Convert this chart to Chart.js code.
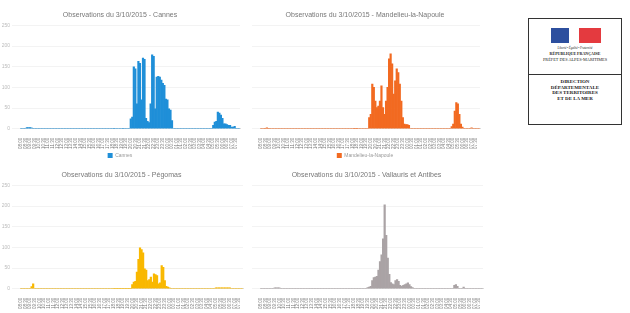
<!DOCTYPE html>
<html>
<head>
<meta charset="utf-8">
<script src="https://cdn.jsdelivr.net/npm/chart.js@4.4.0/dist/chart.umd.min.js"></script>
<style>
body { margin: 0; background: #fff; width: 630px; height: 313px; overflow: hidden; position: relative; font-family: "Liberation Sans", Arial, sans-serif; }
canvas { position: absolute; }
#logo { position: absolute; left: 528px; top: 18px; width: 92px; height: 105px; border: 1px solid #333; background: #fff; }
#logo .haut { position: absolute; left: 0; top: 0; width: 92px; height: 55px; border-bottom: 1px solid #333; }
#logo .bleu { position: absolute; left: 22px; top: 9px; width: 18px; height: 15px; background: #2d4f9e; }
#logo .rouge { position: absolute; left: 50px; top: 9px; width: 22px; height: 15px; background: #e43a3f; }
#logo .l { position: absolute; left: 0; width: 92px; text-align: center; white-space: nowrap; color: #222; font-family: "Liberation Serif", serif; }
</style>
</head>
<body>
<canvas id="c1" width="250" height="170" style="left:0;top:0"></canvas>
<canvas id="c2" width="250" height="170" style="left:250px;top:0"></canvas>
<canvas id="c3" width="250" height="170" style="left:0;top:160px"></canvas>
<canvas id="c4" width="250" height="170" style="left:250px;top:160px"></canvas>

<div id="logo">
  <div class="haut">
    <div class="bleu"></div><div class="rouge"></div>
    <div class="l" style="top:27px;font-size:3px;font-style:italic">Liberté • Égalité • Fraternité</div>
    <div class="l" style="top:32px;font-size:4px;font-weight:bold">RÉPUBLIQUE FRANÇAISE</div>
    <div class="l" style="top:38px;font-size:4.3px">PRÉFET DES ALPES-MARITIMES</div>
  </div>
  <div class="l" style="top:60px;font-size:5px;font-weight:bold;line-height:5.5px">DIRECTION<br>DÉPARTEMENTALE<br>DES TERRITOIRES<br>ET DE LA MER</div>
</div>

<script>
// pas de 10 minutes à partir de 08:00
var heures = [];
for (var k = 0; k < 144; k++) {
  var m = 8 * 60 + k * 10;
  var h = Math.floor(m / 60) % 24, mn = m % 60;
  heures.push((h < 10 ? "0" : "") + h + ":" + (mn < 10 ? "0" : "") + mn);
}

var cannes = [
  0,0,0,0,3,3,3,2,0,0,0,0,0,0,0,0,0,0,0,0,0,0,0,0,
  0,0,0,0,0,0,0,0,0,0,0,0,0,0,0,0,0,0,0,0,0,0,0,0,
  0,0,0,0,0,0,0,0,0,0,0,0,0,1,0,0,0,0,0,1,0,0,0,0,
  24,28,150,145,60,163,158,70,171,168,25,18,15,60,179,175,48,125,127,125,118,110,105,72,
  70,48,45,20,0,0,0,0,0,0,0,0,0,0,0,0,0,0,0,0,0,0,0,0,
  0,0,0,0,0,0,8,16,18,40,38,33,25,12,12,10,8,8,4,4,6,0,0,0
];
var mandelieu = [
  0,0,0,1,2,1,0,0,0,0,0,0,0,0,0,0,0,0,0,0,0,0,0,0,
  0,0,0,0,0,0,0,0,0,0,0,0,0,0,0,0,0,0,0,0,0,0,0,0,
  0,0,0,0,0,0,0,0,0,0,0,0,0,1,1,1,0,0,0,0,0,0,0,27,
  35,108,100,67,51,55,67,104,51,35,67,100,169,181,157,84,116,145,136,108,67,27,11,10,
  10,8,0,0,0,0,0,0,0,0,0,0,0,0,0,0,0,0,0,0,0,0,0,0,
  0,0,0,0,0,5,11,43,63,60,35,11,4,0,0,0,0,0,2,0,0,0,0,0
];
var pegomas = [
  0,0,0,0,0,0,0,5,12,0,0,0,0,0,0,0,0,0,0,0,0,0,0,0,
  0,0,0,0,0,0,0,0,0,0,0,0,0,0,0,0,0,0,0,0,0,0,0,0,
  0,0,0,0,0,0,0,0,0,0,0,0,1,1,1,1,1,1,1,1,1,1,1,1,
  10,16,18,40,71,99,95,87,48,45,20,22,28,16,36,34,32,12,14,56,52,20,6,4,
  2,0,0,0,0,0,0,0,0,0,0,0,0,0,0,0,0,0,0,0,0,0,0,0,
  0,0,0,0,0,0,2,2,2,2,2,2,2,2,2,2,0,0,0,0,0,0,0,0
];
var vallauris = [
  0,0,0,0,0,0,0,0,0,2,2,2,2,0,0,0,0,0,0,0,0,0,0,0,
  0,0,0,0,0,0,0,0,0,0,0,0,0,0,0,0,0,0,0,0,0,0,0,0,
  0,0,0,0,0,0,0,0,0,0,0,0,0,0,0,0,0,0,0,0,0,3,4,6,
  20,27,28,30,45,66,82,121,203,129,74,35,15,12,10,20,22,18,8,6,8,10,12,14,
  10,5,3,0,0,0,0,0,0,0,0,0,0,0,0,0,0,0,0,0,0,0,0,0,
  0,0,0,0,0,8,10,6,0,0,0,4,0,0,0,0,0,0,0,0,0,0,0,0
];
var ticksY = [0, 50, 100, 150, 200, 250];

function graphe(id, titre, nom, valeurs, couleur, gauche, droite) {
  new Chart(document.getElementById(id), {
    type: "bar",
    data: {
      labels: heures,
      datasets: [{
        label: nom,
        data: valeurs,
        backgroundColor: couleur,
        categoryPercentage: 1,
        barPercentage: 1
      }]
    },
    options: {
      responsive: false,
      animation: false,
      layout: { padding: { left: 0, right: droite, top: 0, bottom: 2 } },
      plugins: {
        title: { display: true, text: titre, color: "#777", font: { size: 7, weight: "normal" }, padding: { top: 11, bottom: 6 } },
        legend: {
          display: true, position: "bottom",
          labels: { boxWidth: 5, boxHeight: 5, color: "#999", font: { size: 5 }, padding: 3 }
        },
        tooltip: { enabled: false }
      },
      scales: {
        x: {
          grid: { display: false },
          border: { color: "#ddd" },
          ticks: {
            autoSkip: false, maxRotation: 90, minRotation: 90,
            color: "#777", font: { size: 4.5 }, padding: 1,
            callback: function(v, i) { return i % 3 == 0 ? heures[i] : null; }
          }
        },
        y: {
          min: 0, max: 250,
          afterFit: function(s) { s.width = gauche; },
          afterBuildTicks: function(s) { s.ticks = ticksY.map(function(v) { return { value: v }; }); },
          grid: { color: "#f3f3f3" },
          border: { display: false },
          ticks: { color: "#bbb", font: { size: 5 }, padding: 2 }
        }
      }
    }
  });
}

graphe("c1", "Observations du 3/10/2015 - Cannes", "Cannes", cannes, "#1f8fd8", 20, 10);
graphe("c2", "Observations du 3/10/2015 - Mandelieu-la-Napoule", "Mandelieu-la-Napoule", mandelieu, "#f26a21", 10, 20);
graphe("c3", "Observations du 3/10/2015 - Pégomas", "Pégomas", pegomas, "#f9b800", 20, 7);
graphe("c4", "Observations du 3/10/2015 - Vallauris et Antibes", "Vallauris et Antibes", vallauris, "#aaa3a5", 10, 17);
</script>
</body>
</html>
